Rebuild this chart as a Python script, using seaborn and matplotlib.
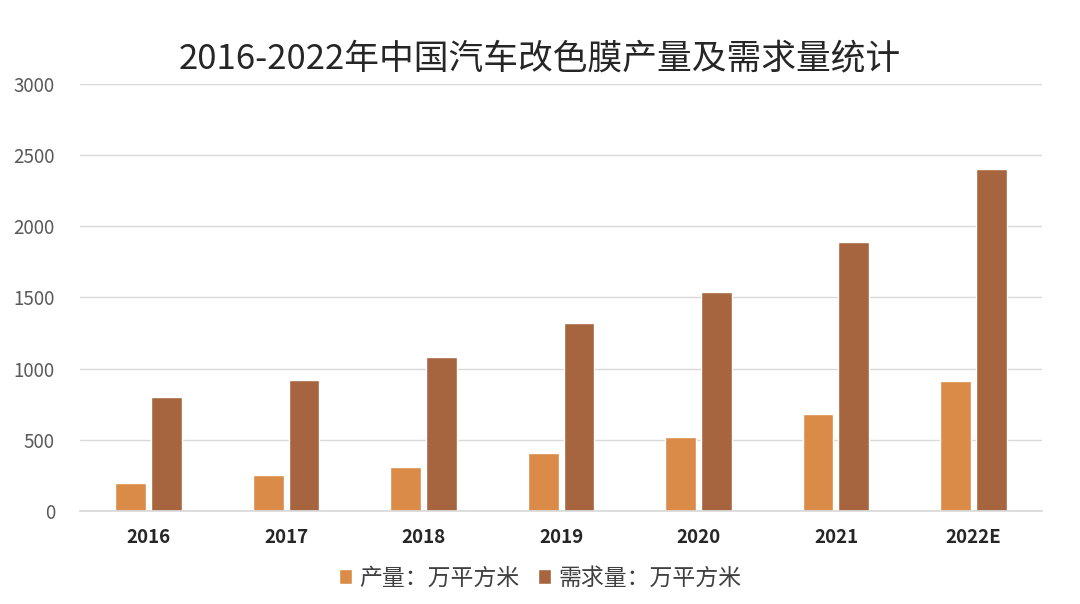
import matplotlib
matplotlib.use("Agg")
import matplotlib.pyplot as plt
import seaborn as sns
import pandas as pd

years = ["2016", "2017", "2018", "2019", "2020", "2021", "2022E"]
production = [200, 250, 310, 410, 520, 680, 910]
demand = [800, 920, 1080, 1320, 1540, 1890, 2400]
series_names = ["产量：万平方米", "需求量：万平方米"]
title = "2016-2022年中国汽车改色膜产量及需求量统计"
yticks = [0, 500, 1000, 1500, 2000, 2500, 3000]

sns.set_theme(style="white")
plt.rcParams["font.family"] = ["Noto Sans CJK SC", "DejaVu Sans"]

df = pd.DataFrame({
    "year": years * 2,
    "value": production + demand,
    "series": [series_names[0]] * len(years) + [series_names[1]] * len(years),
})

fig = plt.figure(figsize=(10.8, 6.04), dpi=100)
ax = fig.add_axes([0.074, 0.154, 0.891, 0.707])
sns.barplot(data=df, x="year", y="value", hue="series", ax=ax,
            palette=["#D98B47", "#A6653E"], width=0.52, gap=0.14,
            saturation=1, errorbar=None)

ax.set_ylim(0, 3000)
ax.set_yticks(yticks)
ax.set_yticklabels([str(t) for t in yticks], color="#595959", fontsize=13.5)
ax.set_xlim(-0.5, len(years) - 0.5)
ax.set_xlabel("")
ax.set_ylabel("")
for lbl in ax.get_xticklabels():
    lbl.set_fontweight("bold")
    lbl.set_fontsize(13.5)
    lbl.set_color("#262626")
ax.tick_params(axis="x", pad=12, length=0)
ax.tick_params(axis="y", pad=18, length=0)
ax.yaxis.grid(True, color="#D9D9D9", linewidth=1)
ax.set_axisbelow(True)
for s in ["top", "right", "left"]:
    ax.spines[s].set_visible(False)
ax.spines["bottom"].set_color("#D9D9D9")

fig.text(0.5, 0.903, title, ha="center", va="center", fontsize=25, color="#262626")

handles, labels = ax.get_legend_handles_labels()
ax.legend_.remove()
fig.legend(handles, labels, loc="center", bbox_to_anchor=(0.5, 0.043), ncol=2,
           frameon=False, fontsize=16.5, handlelength=0.6, handleheight=0.6,
           handletextpad=0.3, columnspacing=0.8, labelcolor="#404040")

fig.savefig("out.png", dpi=100, facecolor="white")
